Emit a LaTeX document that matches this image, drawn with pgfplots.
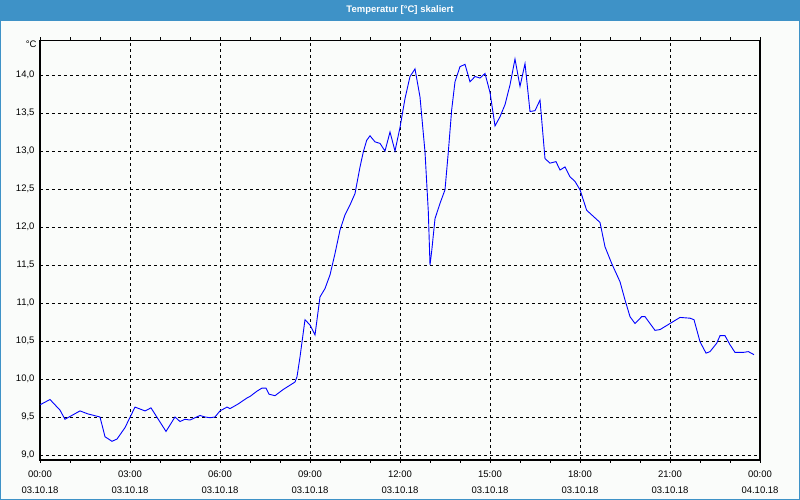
\documentclass[border=0pt]{standalone}
\usepackage{pgfplots}
\pgfplotsset{compat=1.18}
\usepackage{fontspec}
\setmainfont{Liberation Sans}
\definecolor{barblue}{RGB}{62,146,199}
\definecolor{bgc}{RGB}{250,252,250}
\begin{document}
\begin{tikzpicture}
\useasboundingbox (0pt,0pt) rectangle (800pt,500pt);
\fill[bgc] (0pt,0pt) rectangle (800pt,500pt);
\fill[barblue] (0pt,479pt) rectangle (800pt,500pt);
\draw[barblue,line width=2pt] (0pt,0pt) rectangle (800pt,500pt);
\node[text=white,font=\fontsize{9.5}{11}\selectfont\bfseries] at (400pt,490pt) {Temperatur [°C] skaliert};
\node[font=\fontsize{9.5}{11}\selectfont,anchor=east] at (40pt,456pt) {°C};
\begin{axis}[
  at={(40pt,40pt)}, anchor=south west,
  scale only axis, width=720pt, height=419.5pt,
  xmin=0, xmax=24, ymin=8.934, ymax=14.454,
  axis line style={black, line width=1.2pt},
  xtick={0,3,...,24},
  xticklabels={{00:00\\03.10.18},{03:00\\03.10.18},{06:00\\03.10.18},{09:00\\03.10.18},{12:00\\03.10.18},{15:00\\03.10.18},{18:00\\03.10.18},{21:00\\03.10.18},{00:00\\04.10.18}},
  xticklabel style={align=center, font=\fontsize{9.5}{16}\selectfont, yshift=-4pt},
  minor x tick num=2,
  ytick={9,9.5,...,14},
  yticklabel style={font=\fontsize{9.5}{11}\selectfont, xshift=1pt,
    /pgf/number format/fixed, /pgf/number format/fixed zerofill,
    /pgf/number format/precision=1, /pgf/number format/use comma,
    /pgf/number format/assume math mode=true},
  tick align=outside,
  major tick length=3pt, minor tick length=3pt,
  ytick style={draw=none},
  xtick style={black, line width=0.8pt},
  minor tick style={black, line width=0.8pt},
  xmajorgrids, ymajorgrids,
  major grid style={black, line width=0.9pt, dash pattern=on 3pt off 3pt},
]
\addplot[color=blue, line width=0.9pt, no marks] coordinates {
(0.000,9.66) (0.333,9.73) (0.667,9.59) (0.833,9.47) (1.333,9.58) (1.600,9.54)
(2.000,9.50) (2.167,9.24) (2.400,9.18) (2.567,9.21) (2.833,9.36) (3.167,9.63)
(3.500,9.58) (3.700,9.62) (4.200,9.31) (4.500,9.50) (4.667,9.44) (4.833,9.47)
(5.000,9.46) (5.333,9.52) (5.500,9.50) (5.667,9.49) (5.833,9.50) (6.000,9.58)
(6.233,9.63) (6.333,9.61) (6.600,9.67) (6.900,9.75) (7.000,9.77) (7.233,9.84)
(7.400,9.88) (7.533,9.88) (7.633,9.80) (7.833,9.78) (8.100,9.86) (8.500,9.96)
(8.567,10.03) (8.667,10.29) (8.833,10.78) (9.000,10.71) (9.167,10.58)
(9.333,11.08) (9.500,11.19) (9.667,11.37) (9.833,11.65) (10.000,11.96)
(10.167,12.16) (10.333,12.29) (10.500,12.44) (10.667,12.79) (10.778,12.99)
(10.889,13.14) (11.000,13.20) (11.167,13.12) (11.333,13.10) (11.500,13.00)
(11.667,13.25) (11.833,13.00) (12.000,13.31) (12.167,13.69) (12.333,13.98)
(12.500,14.08) (12.667,13.71) (12.833,12.99) (12.944,12.20) (13.000,11.50)
(13.056,11.68) (13.167,12.11) (13.333,12.31) (13.500,12.49) (13.611,12.99)
(13.722,13.54) (13.833,13.91) (14.000,14.11) (14.167,14.14) (14.333,13.91)
(14.500,13.98) (14.667,13.96) (14.833,14.02) (15.000,13.77) (15.167,13.33)
(15.333,13.45) (15.500,13.61) (15.667,13.87) (15.833,14.21) (16.000,13.85)
(16.167,14.15) (16.333,13.52) (16.500,13.53) (16.667,13.67) (16.833,12.90)
(17.000,12.84) (17.200,12.86) (17.333,12.75) (17.500,12.79) (17.667,12.66)
(17.833,12.60) (18.000,12.49) (18.222,12.22) (18.444,12.14) (18.667,12.06)
(18.833,11.74) (19.056,11.52) (19.333,11.28) (19.500,11.04) (19.667,10.82)
(19.833,10.73) (20.056,10.82) (20.167,10.82) (20.500,10.64) (20.667,10.65)
(21.000,10.73) (21.333,10.81) (21.667,10.80) (21.800,10.78) (22.000,10.49)
(22.200,10.34) (22.333,10.36) (22.556,10.47) (22.667,10.57) (22.833,10.57)
(23.000,10.45) (23.167,10.35) (23.444,10.35) (23.611,10.36) (23.800,10.32)
};
\end{axis}
\end{tikzpicture}
\end{document}
